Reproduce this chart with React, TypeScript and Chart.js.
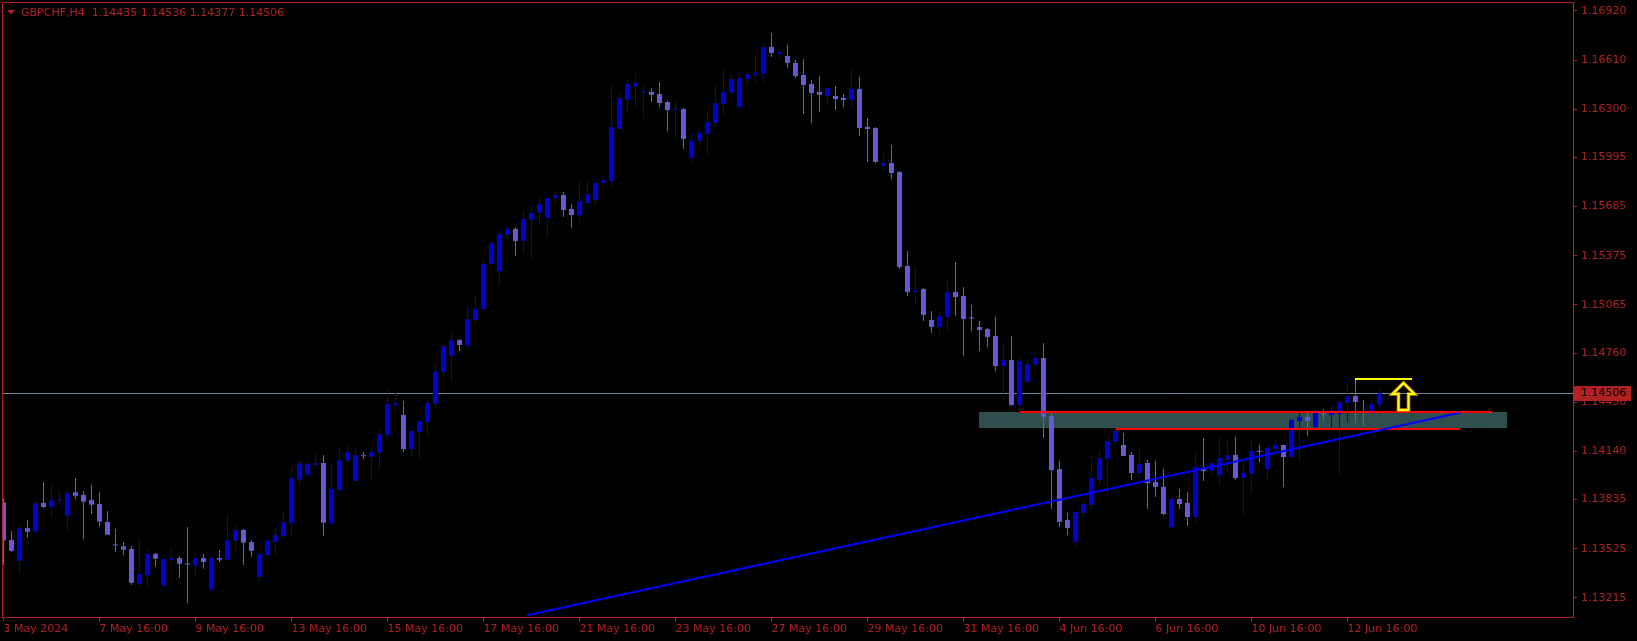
import React, { useEffect, useRef } from 'react';
import { Chart, registerables } from 'chart.js';

Chart.register(...registerables);

// ---- data (GBPCHF, H4) ----
const OPEN = [
  1.13818, 1.13580, 1.13447, 1.13654, 1.13632, 1.13814, 1.13788, 1.13830, 1.13733, 1.13881,
  1.13864, 1.13832, 1.13807, 1.13694, 1.13547, 1.13540, 1.13523, 1.13304, 1.13359, 1.13492,
  1.13291, 1.13456, 1.13466, 1.13427, 1.13418, 1.13466, 1.13266, 1.13466, 1.13456, 1.13574,
  1.13643, 1.13567, 1.13346, 1.13485, 1.13567, 1.13605, 1.13687, 1.13961, 1.13990, 1.14054,
  1.14066, 1.13683, 1.13896, 1.14079, 1.13952, 1.14111, 1.14104, 1.14129, 1.14243, 1.14432,
  1.14369, 1.14154, 1.14262, 1.14325, 1.14439, 1.14641, 1.14742, 1.14843, 1.14807, 1.14969,
  1.15038, 1.15323, 1.15278, 1.15506, 1.15544, 1.15468, 1.15600, 1.15645, 1.15613, 1.15739,
  1.15758, 1.15670, 1.15632, 1.15708, 1.15727, 1.15834, 1.15847, 1.16175, 1.16358, 1.16446,
  1.16408, 1.16409, 1.16396, 1.16345, 1.16298, 1.16301, 1.15992, 1.16099, 1.16143, 1.16213,
  1.16333, 1.16402, 1.16314, 1.16491, 1.16516, 1.16524, 1.16693, 1.16650, 1.16636, 1.16592,
  1.16516, 1.16459, 1.16409, 1.16383, 1.16383, 1.16371, 1.16358, 1.16428, 1.16188, 1.16181,
  1.15941, 1.15960, 1.15903, 1.15310, 1.15146, 1.15165, 1.14969, 1.14925, 1.14988, 1.15146,
  1.15121, 1.14981, 1.14925, 1.14912, 1.14868, 1.14679, 1.14716, 1.14432, 1.14578, 1.14685,
  1.14729, 1.14363, 1.14028, 1.13706, 1.13567, 1.13750, 1.13801, 1.13959, 1.14091, 1.14199,
  1.14180, 1.14117, 1.14003, 1.14066, 1.13946, 1.13915, 1.13662, 1.13839, 1.13814, 1.13725,
  1.14035, 1.14016, 1.13990, 1.14085, 1.14117, 1.13971, 1.13997, 1.14139, 1.14028, 1.14154,
  1.14180, 1.14104, 1.14331, 1.14357, 1.14293, 1.14375, 1.14369, 1.14376, 1.14445, 1.14489,
  1.14389, 1.14382, 1.14435,
];
const HIGH = [
  1.13843, 1.13637, 1.13668, 1.13706, 1.13832, 1.13946, 1.13934, 1.13889, 1.13902, 1.13971,
  1.13889, 1.13927, 1.13883, 1.13763, 1.13649, 1.13567, 1.13542, 1.13586, 1.13519, 1.13498,
  1.13483, 1.13534, 1.13479, 1.13662, 1.13504, 1.13492, 1.13485, 1.13517, 1.13744, 1.13675,
  1.13649, 1.13580, 1.13517, 1.13580, 1.13649, 1.13757, 1.14047, 1.14085, 1.14079, 1.14129,
  1.14117, 1.14060, 1.14167, 1.14173, 1.14161, 1.14136, 1.14161, 1.14287, 1.14533, 1.14514,
  1.14458, 1.14287, 1.14338, 1.14464, 1.14698, 1.14824, 1.14893, 1.14849, 1.15057, 1.15121,
  1.15354, 1.15468, 1.15525, 1.15563, 1.15556, 1.15664, 1.15689, 1.15739, 1.15739, 1.15777,
  1.15777, 1.15701, 1.15847, 1.15840, 1.15853, 1.15878, 1.16453, 1.16402, 1.16491, 1.16529,
  1.16446, 1.16434, 1.16472, 1.16352, 1.16352, 1.16308, 1.16150, 1.16175, 1.16282, 1.16446,
  1.16547, 1.16522, 1.16529, 1.16535, 1.16655, 1.16712, 1.16781, 1.16686, 1.16705, 1.16611,
  1.16617, 1.16484, 1.16510, 1.16440, 1.16446, 1.16396, 1.16554, 1.16503, 1.16244, 1.16188,
  1.16023, 1.16074, 1.15910, 1.15405, 1.15304, 1.15171, 1.15026, 1.15020, 1.15228, 1.15335,
  1.15177, 1.15064, 1.14963, 1.14918, 1.14988, 1.14824, 1.14868, 1.14729, 1.14716, 1.14767,
  1.14824, 1.14388, 1.14079, 1.13750, 1.13763, 1.13832, 1.14104, 1.14148, 1.14237, 1.14287,
  1.14256, 1.14136, 1.14161, 1.14085, 1.14079, 1.14028, 1.13858, 1.13902, 1.13883, 1.14136,
  1.14224, 1.14079, 1.14231, 1.14212, 1.14231, 1.14085, 1.14212, 1.14180, 1.14173, 1.14212,
  1.14180, 1.14344, 1.14401, 1.14382, 1.14407, 1.14407, 1.14432, 1.14470, 1.14565, 1.14596,
  1.14464, 1.14458, 1.14536,
];
const LOW = [
  1.13422, 1.13504, 1.13365, 1.13594, 1.13632, 1.13784, 1.13721, 1.13801, 1.13643, 1.13841,
  1.13586, 1.13744, 1.13664, 1.13613, 1.13506, 1.13487, 1.13296, 1.13281, 1.13285, 1.13411,
  1.13291, 1.13437, 1.13342, 1.13184, 1.13348, 1.13399, 1.13266, 1.13441, 1.13449, 1.13511,
  1.13422, 1.13474, 1.13317, 1.13479, 1.13485, 1.13593, 1.13605, 1.13923, 1.13990, 1.14035,
  1.13605, 1.13670, 1.13889, 1.14066, 1.13952, 1.14091, 1.13952, 1.14028, 1.14218, 1.14394,
  1.14136, 1.14110, 1.14091, 1.14237, 1.14407, 1.14615, 1.14578, 1.14773, 1.14786, 1.14944,
  1.15032, 1.15316, 1.15190, 1.15474, 1.15373, 1.15386, 1.15354, 1.15569, 1.15493, 1.15714,
  1.15619, 1.15550, 1.15581, 1.15701, 1.15695, 1.15809, 1.15815, 1.16169, 1.16276, 1.16320,
  1.16238, 1.16345, 1.16314, 1.16162, 1.16112, 1.16049, 1.15960, 1.16074, 1.16004, 1.16188,
  1.16257, 1.16390, 1.16301, 1.16453, 1.16472, 1.16474, 1.16630, 1.16623, 1.16560, 1.16497,
  1.16270, 1.16213, 1.16282, 1.16326, 1.16295, 1.16314, 1.16308, 1.16131, 1.15967, 1.15960,
  1.15916, 1.15859, 1.15291, 1.15121, 1.15070, 1.14963, 1.14887, 1.14874, 1.14906, 1.14994,
  1.14742, 1.14900, 1.14773, 1.14799, 1.14647, 1.14464, 1.14426, 1.14382, 1.14578, 1.14672,
  1.14224, 1.13776, 1.13662, 1.13611, 1.13536, 1.13719, 1.13769, 1.13921, 1.13858, 1.14192,
  1.14110, 1.13959, 1.13971, 1.13776, 1.13851, 1.13738, 1.13662, 1.13776, 1.13668, 1.13694,
  1.13952, 1.13984, 1.13921, 1.14009, 1.13959, 1.13744, 1.13876, 1.14072, 1.13952, 1.14117,
  1.13915, 1.14091, 1.14072, 1.14237, 1.14274, 1.14331, 1.14274, 1.13997, 1.14325, 1.14319,
  1.14300, 1.14382, 1.14377,
];
const CLOSE = [
  1.13576, 1.13511, 1.13654, 1.13632, 1.13812, 1.13788, 1.13832, 1.13832, 1.13875, 1.13860,
  1.13822, 1.13803, 1.13696, 1.13613, 1.13545, 1.13519, 1.13310, 1.13365, 1.13492, 1.13462,
  1.13460, 1.13466, 1.13430, 1.13425, 1.13466, 1.13441, 1.13466, 1.13456, 1.13580, 1.13643,
  1.13563, 1.13512, 1.13492, 1.13574, 1.13611, 1.13694, 1.13971, 1.14064, 1.14060, 1.14066,
  1.13689, 1.13902, 1.14085, 1.14136, 1.14117, 1.14109, 1.14136, 1.14249, 1.14439, 1.14445,
  1.14154, 1.14268, 1.14331, 1.14445, 1.14647, 1.14805, 1.14843, 1.14811, 1.14975, 1.15038,
  1.15323, 1.15455, 1.15512, 1.15544, 1.15468, 1.15607, 1.15645, 1.15701, 1.15739, 1.15758,
  1.15664, 1.15632, 1.15720, 1.15765, 1.15834, 1.15853, 1.16188, 1.16371, 1.16459, 1.16465,
  1.16410, 1.16390, 1.16339, 1.16295, 1.16300, 1.16112, 1.16099, 1.16150, 1.16219, 1.16339,
  1.16409, 1.16491, 1.16497, 1.16522, 1.16529, 1.16693, 1.16655, 1.16661, 1.16592, 1.16510,
  1.16453, 1.16402, 1.16390, 1.16434, 1.16364, 1.16358, 1.16428, 1.16181, 1.16175, 1.15967,
  1.15960, 1.15897, 1.15304, 1.15146, 1.15158, 1.15001, 1.14925, 1.14994, 1.15146, 1.15114,
  1.14975, 1.14979, 1.14906, 1.14862, 1.14679, 1.14716, 1.14432, 1.14710, 1.14691, 1.14729,
  1.14357, 1.14022, 1.13694, 1.13656, 1.13757, 1.13807, 1.13971, 1.14098, 1.14205, 1.14268,
  1.14110, 1.14003, 1.14060, 1.13940, 1.13915, 1.13744, 1.13839, 1.13807, 1.13725, 1.14041,
  1.14016, 1.14066, 1.14098, 1.14117, 1.13971, 1.14003, 1.14142, 1.14137, 1.14161, 1.14180,
  1.14104, 1.14338, 1.14357, 1.14331, 1.14382, 1.14373, 1.14382, 1.14451, 1.14489, 1.14451,
  1.14387, 1.14439, 1.14506,
];

const SYMBOL = 'GBPCHF,H4';
const X_TICK_INDEX = [0, 12, 24, 36, 48, 60, 72, 84, 96, 108, 120, 132, 144, 156, 168];
const X_TICK_LABELS = [
  '3 May 2024', '7 May 16:00', '9 May 16:00', '13 May 16:00', '15 May 16:00',
  '17 May 16:00', '21 May 16:00', '23 May 16:00', '27 May 16:00', '29 May 16:00',
  '31 May 16:00', '4 Jun 16:00', '6 Jun 16:00', '10 Jun 16:00', '12 Jun 16:00',
];
const Y_TICKS = [
  1.16920, 1.16610, 1.16300, 1.15995, 1.15685, 1.15375, 1.15065,
  1.14760, 1.14450, 1.14140, 1.13835, 1.13525, 1.13215,
];
const Y_MIN = 1.130938;
const Y_MAX = 1.169768;
const X_MIN = -0.1875;
const X_MAX = 196.1875;
const BID = 1.14506;

// drawn objects (bar index, price)
const ZONE = { from: 121.94, to: 187.9, top: 1.1439, bottom: 1.14289 };
const RED_LINES = [
  { from: 127.06, to: 186.0, price: 1.14388 },
  { from: 139.0, to: 182.06, price: 1.14283 },
];
const YELLOW_LINE = { from: 168.94, to: 176.0, price: 1.14596 };
const TREND = { from: 65.44, fromPrice: 1.131051, to: 182.06, toPrice: 1.14384 };
const ARROW = { index: 175, price: 1.14571 };

const FG = '#b22222';
const BULL = '#0000cd';
const BEAR = '#6a5acd';
const FONT_FAMILY = '"DejaVu Sans", Verdana, sans-serif';

const mt4Plugin = {
  id: 'mt4',
  beforeDraw(chart: any) {
    const { ctx, width, height } = chart;
    ctx.save();
    ctx.fillStyle = '#000';
    ctx.fillRect(0, 0, width, height);
    ctx.restore();
  },
  beforeDatasetsDraw(chart: any) {
    const { ctx, chartArea: a, scales } = chart;
    const x = scales.x, y = scales.y;
    ctx.save();
    ctx.beginPath();
    ctx.rect(a.left, a.top, a.right - a.left, a.bottom - a.top);
    ctx.clip();
    const rx0 = Math.round(x.getPixelForValue(ZONE.from));
    const rx1 = Math.round(x.getPixelForValue(ZONE.to));
    const ry0 = Math.round(y.getPixelForValue(ZONE.top));
    const ry1 = Math.round(y.getPixelForValue(ZONE.bottom));
    ctx.fillStyle = '#2f4f4f';
    ctx.fillRect(rx0, ry0, rx1 - rx0, ry1 - ry0);
    const by = Math.round(y.getPixelForValue(BID)) + 0.5;
    ctx.strokeStyle = '#778899';
    ctx.lineWidth = 1;
    ctx.beginPath();
    ctx.moveTo(a.left, by);
    ctx.lineTo(a.right, by);
    ctx.stroke();
    ctx.restore();
  },
  afterDatasetsDraw(chart: any) {
    const { ctx, chartArea: a, scales } = chart;
    const x = scales.x, y = scales.y;
    ctx.save();
    ctx.beginPath();
    ctx.rect(a.left, a.top, a.right - a.left, a.bottom - a.top);
    ctx.clip();
    const hline = (from: number, to: number, price: number, color: string) => {
      const yy = Math.round(y.getPixelForValue(price));
      ctx.strokeStyle = color;
      ctx.lineWidth = 2;
      ctx.beginPath();
      ctx.moveTo(Math.round(x.getPixelForValue(from)), yy);
      ctx.lineTo(Math.round(x.getPixelForValue(to)), yy);
      ctx.stroke();
    };
    RED_LINES.forEach((l) => hline(l.from, l.to, l.price, '#ff0000'));
    hline(YELLOW_LINE.from, YELLOW_LINE.to, YELLOW_LINE.price, '#ffff00');
    // trend line
    ctx.strokeStyle = '#0000ff';
    ctx.lineWidth = 2;
    ctx.beginPath();
    ctx.moveTo(x.getPixelForValue(TREND.from), y.getPixelForValue(TREND.fromPrice));
    ctx.lineTo(x.getPixelForValue(TREND.to), y.getPixelForValue(TREND.toPrice));
    ctx.stroke();
    // arrow
    const tx = x.getPixelForValue(ARROW.index);
    const ty = y.getPixelForValue(ARROW.price);
    const pts = [[0, 0], [11, 11], [5, 11], [5, 27], [-5, 27], [-5, 11], [-11, 11]];
    const path = () => {
      ctx.beginPath();
      pts.forEach(([dx, dy], k) => (k ? ctx.lineTo(tx + dx, ty + dy) : ctx.moveTo(tx + dx, ty + dy)));
      ctx.closePath();
    };
    ctx.lineJoin = 'miter';
    path();
    ctx.strokeStyle = '#d08000';
    ctx.lineWidth = 3.5;
    ctx.stroke();
    path();
    ctx.strokeStyle = '#ffff00';
    ctx.lineWidth = 2;
    ctx.stroke();
    ctx.restore();
  },
  afterDraw(chart: any) {
    const { ctx, chartArea: a, scales } = chart;
    const y = scales.y;
    ctx.save();
    // frame
    ctx.strokeStyle = FG;
    ctx.lineWidth = 1;
    ctx.strokeRect(a.left + 0.5, a.top + 0.5, a.right - a.left, a.bottom - a.top);
    // title
    const n = CLOSE.length - 1;
    ctx.fillStyle = FG;
    ctx.beginPath();
    ctx.moveTo(7, 10);
    ctx.lineTo(15, 10);
    ctx.lineTo(11, 14.5);
    ctx.closePath();
    ctx.fill();
    ctx.font = `11px ${FONT_FAMILY}`;
    ctx.textBaseline = 'middle';
    ctx.textAlign = 'left';
    ctx.fillText(
      `${SYMBOL}  ${OPEN[n].toFixed(5)} ${HIGH[n].toFixed(5)} ${LOW[n].toFixed(5)} ${CLOSE[n].toFixed(5)}`,
      21, 13,
    );
    // price box
    const py = Math.round(y.getPixelForValue(BID));
    ctx.fillStyle = FG;
    ctx.fillRect(a.right + 1, py - 7, 57, 15);
    ctx.fillStyle = '#000';
    ctx.fillText(BID.toFixed(5), a.right + 8, py + 0.5);
    ctx.restore();
  },
};

export default function App() {
  const ref = useRef<HTMLCanvasElement>(null);
  useEffect(() => {
    document.body.style.margin = '0';
    document.body.style.background = '#000';
    const idx = OPEN.map((_, i) => i);
    const colors = idx.map((i) => (CLOSE[i] >= OPEN[i] ? BULL : BEAR));
    const chart = new Chart(ref.current as HTMLCanvasElement, {
      type: 'bar',
      data: {
        datasets: [
          {
            label: 'body',
            data: idx.map((i) => ({ x: i, y: [OPEN[i], CLOSE[i]] })) as any,
            backgroundColor: colors,
            barThickness: 5,
            minBarLength: 1,
            grouped: false,
            borderWidth: 0,
            inflateAmount: 0,
          } as any,
          {
            label: 'wick',
            data: idx.map((i) => ({ x: i, y: [LOW[i], HIGH[i]] })) as any,
            backgroundColor: colors,
            barThickness: 1,
            minBarLength: 1,
            grouped: false,
            borderWidth: 0,
            inflateAmount: 0,
          } as any,
        ],
      },
      options: {
        responsive: false,
        maintainAspectRatio: false,
        animation: false,
        devicePixelRatio: 1,
        events: [],
        layout: { padding: { left: 2, top: 2, right: 0, bottom: 0 } },
        plugins: { legend: { display: false }, tooltip: { enabled: false } },
        scales: {
          x: {
            type: 'linear',
            min: X_MIN,
            max: X_MAX,
            offset: false,
            grid: { display: true, drawOnChartArea: false, drawTicks: true, tickLength: 4, color: FG, offset: false },
            border: { display: false },
            afterBuildTicks: (s: any) => {
              s.ticks = X_TICK_INDEX.map((v) => ({ value: v }));
            },
            afterFit: (s: any) => {
              s.height = 24;
              s.paddingLeft = 0;
              s.paddingRight = 0;
              s.paddingTop = 0;
              s.paddingBottom = 0;
            },
            ticks: {
              autoSkip: false,
              maxRotation: 0,
              minRotation: 0,
              align: 'start',
              padding: 2,
              color: FG,
              font: { family: FONT_FAMILY, size: 11 },
              callback: (_v: any, i: number) => X_TICK_LABELS[i],
            },
          } as any,
          y: {
            type: 'linear',
            position: 'right',
            min: Y_MIN,
            max: Y_MAX,
            grid: { display: true, drawOnChartArea: false, drawTicks: true, tickLength: 4, color: FG },
            border: { display: false },
            afterBuildTicks: (s: any) => {
              s.ticks = Y_TICKS.map((v) => ({ value: v }));
            },
            afterFit: (s: any) => {
              s.width = 64;
              s.paddingLeft = 0;
              s.paddingRight = 0;
              s.paddingTop = 0;
              s.paddingBottom = 0;
            },
            ticks: {
              autoSkip: false,
              padding: 4,
              color: FG,
              font: { family: FONT_FAMILY, size: 11 },
              callback: (v: any) => Number(v).toFixed(5),
            },
          } as any,
        },
      },
      plugins: [mt4Plugin],
    });
    return () => chart.destroy();
  }, []);
  return (
    <canvas
      ref={ref}
      width={1637}
      height={641}
      style={{ display: 'block', width: 1637, height: 641, background: '#000' }}
    />
  );
}
